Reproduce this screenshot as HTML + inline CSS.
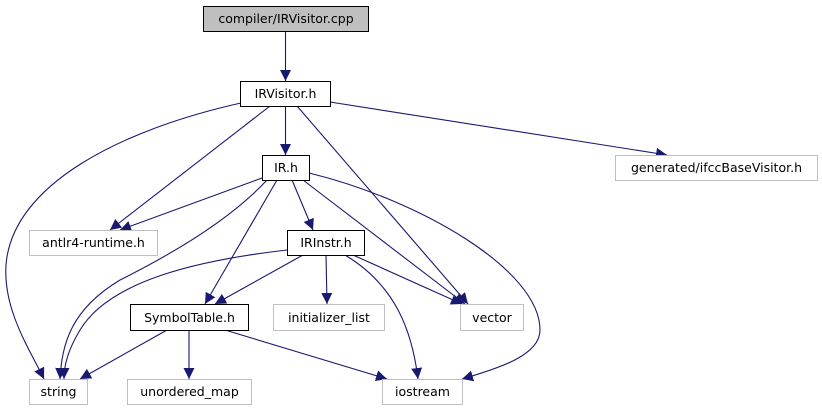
<!DOCTYPE html>
<html><head><style>
html,body{margin:0;padding:0;background:#fff;}
svg{display:block;}
text{font-family:"DejaVu Sans","Liberation Sans",sans-serif;font-size:12.5px;fill:#000;}
</style></head><body>
<svg width="822" height="411" viewBox="0 0 822 411" xmlns="http://www.w3.org/2000/svg">
<defs>
<marker id="a" viewBox="0 0 10 10" refX="10" refY="5" markerWidth="11" markerHeight="11" markerUnits="userSpaceOnUse" orient="auto">
<path d="M0,0 L10,5 L0,10 z" fill="#191970"/>
</marker>
</defs>
<g fill="none" stroke="#191970" stroke-width="1.1" marker-end="url(#a)">
<path d="M285.5,31 L285.5,81"/>
<path d="M285.5,106 L285.5,155"/>
<path d="M241,103 C120,130 12,185 6,265 C3,310 30,350 44,379"/>
<path d="M270,106 L110,230"/>
<path d="M297,106 L468,304"/>
<path d="M330,102 L667,155"/>
<path d="M262,178 L120,230"/>
<path d="M267,180 C230,220 170,255 120,280 C70,310 62,345 60,379"/>
<path d="M277,180 L205,304"/>
<path d="M292,180 L313,230"/>
<path d="M303,180 L465,304"/>
<path d="M309,173 C420,200 540,270 540,330 C540,355 500,368 462,379"/>
<path d="M287,250 C200,260 110,280 80,330 C68,350 64,365 64,379"/>
<path d="M303,255 L215,304"/>
<path d="M326,255 L327,304"/>
<path d="M353,255 L462,304"/>
<path d="M345,255 C395,285 412,330 418,379"/>
<path d="M167,330 L80,379"/>
<path d="M189,330 L189,379"/>
<path d="M225,330 L387,379"/>
</g>
<g stroke-width="1">
<rect x="203.5" y="6.5" width="165" height="25" fill="#bfbfbf" stroke="#000"/>
<rect x="240.5" y="81.5" width="90" height="25" fill="#fff" stroke="#000"/>
<rect x="262.5" y="155.5" width="47" height="25" fill="#fff" stroke="#000"/>
<rect x="615.5" y="155.5" width="202" height="25" fill="#fff" stroke="#bfbfbf"/>
<rect x="29.5" y="230.5" width="128" height="25" fill="#fff" stroke="#bfbfbf"/>
<rect x="287.5" y="230.5" width="77" height="25" fill="#fff" stroke="#000"/>
<rect x="130.5" y="304.5" width="118" height="26" fill="#fff" stroke="#000"/>
<rect x="273.5" y="304.5" width="111" height="26" fill="#fff" stroke="#bfbfbf"/>
<rect x="460.5" y="304.5" width="63" height="26" fill="#fff" stroke="#bfbfbf"/>
<rect x="29.5" y="379.5" width="58" height="25" fill="#fff" stroke="#bfbfbf"/>
<rect x="127.5" y="379.5" width="124" height="25" fill="#fff" stroke="#bfbfbf"/>
<rect x="382.5" y="379.5" width="80" height="25" fill="#fff" stroke="#bfbfbf"/>
</g>
<g text-anchor="middle">
<text x="286" y="23">compiler/IRVisitor.cpp</text>
<text x="285.5" y="98">IRVisitor.h</text>
<text x="286" y="172">IR.h</text>
<text x="716.5" y="172">generated/ifccBaseVisitor.h</text>
<text x="93.5" y="247">antlr4-runtime.h</text>
<text x="326" y="247">IRInstr.h</text>
<text x="189.5" y="322">SymbolTable.h</text>
<text x="329" y="322">initializer_list</text>
<text x="492" y="322">vector</text>
<text x="58.5" y="396">string</text>
<text x="189.5" y="396">unordered_map</text>
<text x="422.5" y="396">iostream</text>
</g>
</svg>
</body></html>
